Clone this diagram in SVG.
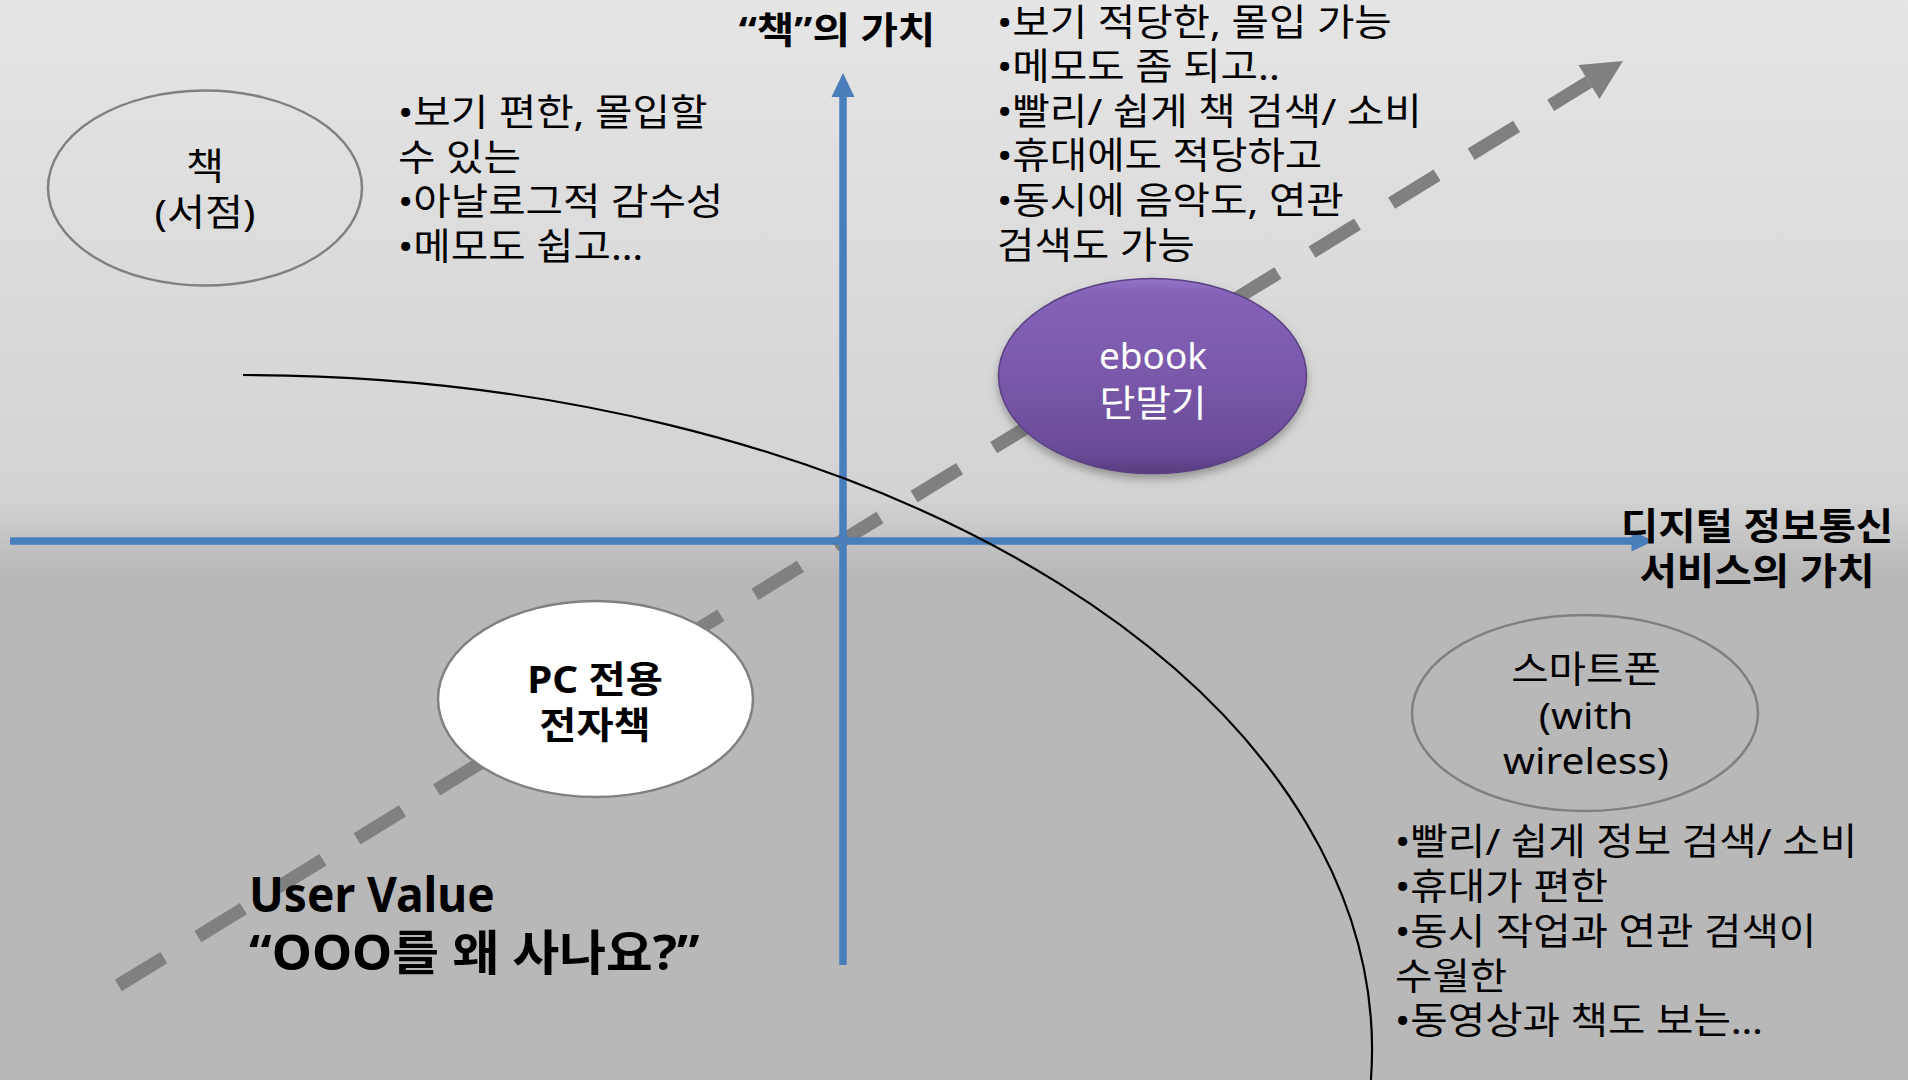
<svg xmlns="http://www.w3.org/2000/svg" width="1908" height="1080" viewBox="0 0 1908 1080">
  <defs>
    <linearGradient id="bg" x1="0" y1="0" x2="0" y2="1080" gradientUnits="userSpaceOnUse">
      <stop offset="0" stop-color="#e5e5e5"/>
      <stop offset="0.46" stop-color="#d3d3d3"/>
      <stop offset="0.485" stop-color="#cacaca"/>
      <stop offset="0.515" stop-color="#bebebe"/>
      <stop offset="0.53" stop-color="#b8b8b8"/>
      <stop offset="1" stop-color="#b8b8b8"/>
    </linearGradient>
    <linearGradient id="purple" x1="0" y1="0" x2="0" y2="1">
      <stop offset="0" stop-color="#9474c6"/>
      <stop offset="0.08" stop-color="#8562b8"/>
      <stop offset="0.5" stop-color="#7a58aa"/>
      <stop offset="0.9" stop-color="#6a4a97"/>
      <stop offset="1" stop-color="#563c7e"/>
    </linearGradient>
    <filter id="shadow" x="-20%" y="-20%" width="140%" height="150%">
      <feDropShadow dx="0" dy="5" stdDeviation="4" flood-color="#555555" flood-opacity="0.5"/>
    </filter>
  </defs>
  <style>
    .t { font-family: "Noto Sans", "Noto Sans CJK KR", sans-serif; font-size: 37px; fill: #000000; }
    .b { font-weight: bold; }
    .w { fill: #ffffff; }
    .big { font-size: 48px; font-weight: bold; }
    .c { text-anchor: middle; }
    .axis { stroke: #4a7ebb; stroke-width: 7.5; fill: none; }
    .head { fill: #4a7ebb; }
    .outline { fill: none; stroke: #808080; stroke-width: 2.5; }
  </style>

  <rect x="0" y="0" width="1908" height="1080" fill="url(#bg)"/>

  <g id="connectors">
    <g id="user-value-arrow">
      <path d="M118.3,985.5 L1588.9,81.9" stroke="#808080" stroke-width="13.3" stroke-dasharray="53.4 40" fill="none"/>
      <polygon points="1623,61 1599.4,98.9 1578.4,64.9" fill="#808080"/>
    </g>
    <g id="y-axis">
      <line x1="843" y1="965" x2="843" y2="97" class="axis"/>
      <polygon points="843,73 854.5,97 831.5,97" class="head"/>
    </g>
    <g id="x-axis">
      <line x1="10" y1="541" x2="1632" y2="541" class="axis"/>
      <polygon points="1653.5,541 1631.5,530.5 1631.5,551.5" class="head"/>
    </g>
    <path id="curve" d="M243,375 A1129,675 0 0 1 1370.9,1080" fill="none" stroke="#000000" stroke-width="2.2"/>
  </g>

  <g id="node-book">
    <ellipse cx="205" cy="188" rx="157" ry="97.5" class="outline"/>
    <g transform="translate(205,0) scale(1.12,1)">
      <text class="t c" x="0" y="180">책</text>
      <text class="t c" x="0" y="226">(서점)</text>
    </g>
  </g>

  <g id="node-ebook">
    <ellipse cx="1152.5" cy="376" rx="154" ry="97.5" fill="url(#purple)" stroke="#5b4183" stroke-width="1.5" filter="url(#shadow)"/>
    <text class="t w c" x="1153" y="369">ebook</text>
    <text class="t w c" x="0" y="417" transform="translate(1153,0) scale(1.05,1)">단말기</text>
  </g>

  <g id="node-pc">
    <ellipse cx="595.5" cy="699" rx="157.5" ry="98" fill="#ffffff" stroke="#808080" stroke-width="2.5"/>
    <g transform="translate(595,0) scale(1.09,1)">
      <text class="t b c" x="0" y="693">PC 전용</text>
      <text class="t b c" x="0" y="739">전자책</text>
    </g>
  </g>

  <g id="node-smartphone">
    <ellipse cx="1585" cy="713" rx="173" ry="98" class="outline"/>
    <g transform="translate(1586,0) scale(1.1,1)">
      <text class="t c" x="0" y="683">스마트폰</text>
      <text class="t c" x="0" y="729">(with</text>
      <text class="t c" x="0" y="774">wireless)</text>
    </g>
  </g>

  <g id="label-book-value" transform="translate(837,0) scale(1.1,1)">
    <text class="t b c" x="0" y="44">“책”의 가치</text>
  </g>

  <g id="label-digital-value" transform="translate(1757,0) scale(1.1,1)">
    <text class="t b c" x="0" y="540">디지털 정보통신</text>
    <text class="t b c" x="0" y="585">서비스의 가치</text>
  </g>

  <g id="label-user-value">
    <text class="t big" x="0" y="912" transform="translate(249,0) scale(0.96,1)">User Value</text>
    <text class="t big" x="0" y="970" transform="translate(249,0) scale(1.06,1)">“OOO를 왜 사나요?”</text>
  </g>

  <g id="notes-book" transform="translate(398,0) scale(1.1,1)">
    <text class="t" x="0" y="126">•보기 편한, 몰입할</text>
    <text class="t" x="0" y="170.7">수 있는</text>
    <text class="t" x="0" y="215.4">•아날로그적 감수성</text>
    <text class="t" x="0" y="260.1">•메모도 쉽고…</text>
  </g>

  <g id="notes-ebook" transform="translate(997,0) scale(1.1,1)">
    <text class="t" x="0" y="36">•보기 적당한, 몰입 가능</text>
    <text class="t" x="0" y="80.3">•메모도 좀 되고..</text>
    <text class="t" x="0" y="124.8">•빨리/ 쉽게 책 검색/ 소비</text>
    <text class="t" x="0" y="169.4">•휴대에도 적당하고</text>
    <text class="t" x="0" y="214.2">•동시에 음악도, 연관</text>
    <text class="t" x="0" y="259">검색도 가능</text>
  </g>

  <g id="notes-smartphone" transform="translate(1395,0) scale(1.1,1)">
    <text class="t" x="0" y="855.5">•빨리/ 쉽게 정보 검색/ 소비</text>
    <text class="t" x="0" y="900.2">•휴대가 편한</text>
    <text class="t" x="0" y="944.9">•동시 작업과 연관 검색이</text>
    <text class="t" x="0" y="989.6">수월한</text>
    <text class="t" x="0" y="1034.3">•동영상과 책도 보는…</text>
  </g>
</svg>
